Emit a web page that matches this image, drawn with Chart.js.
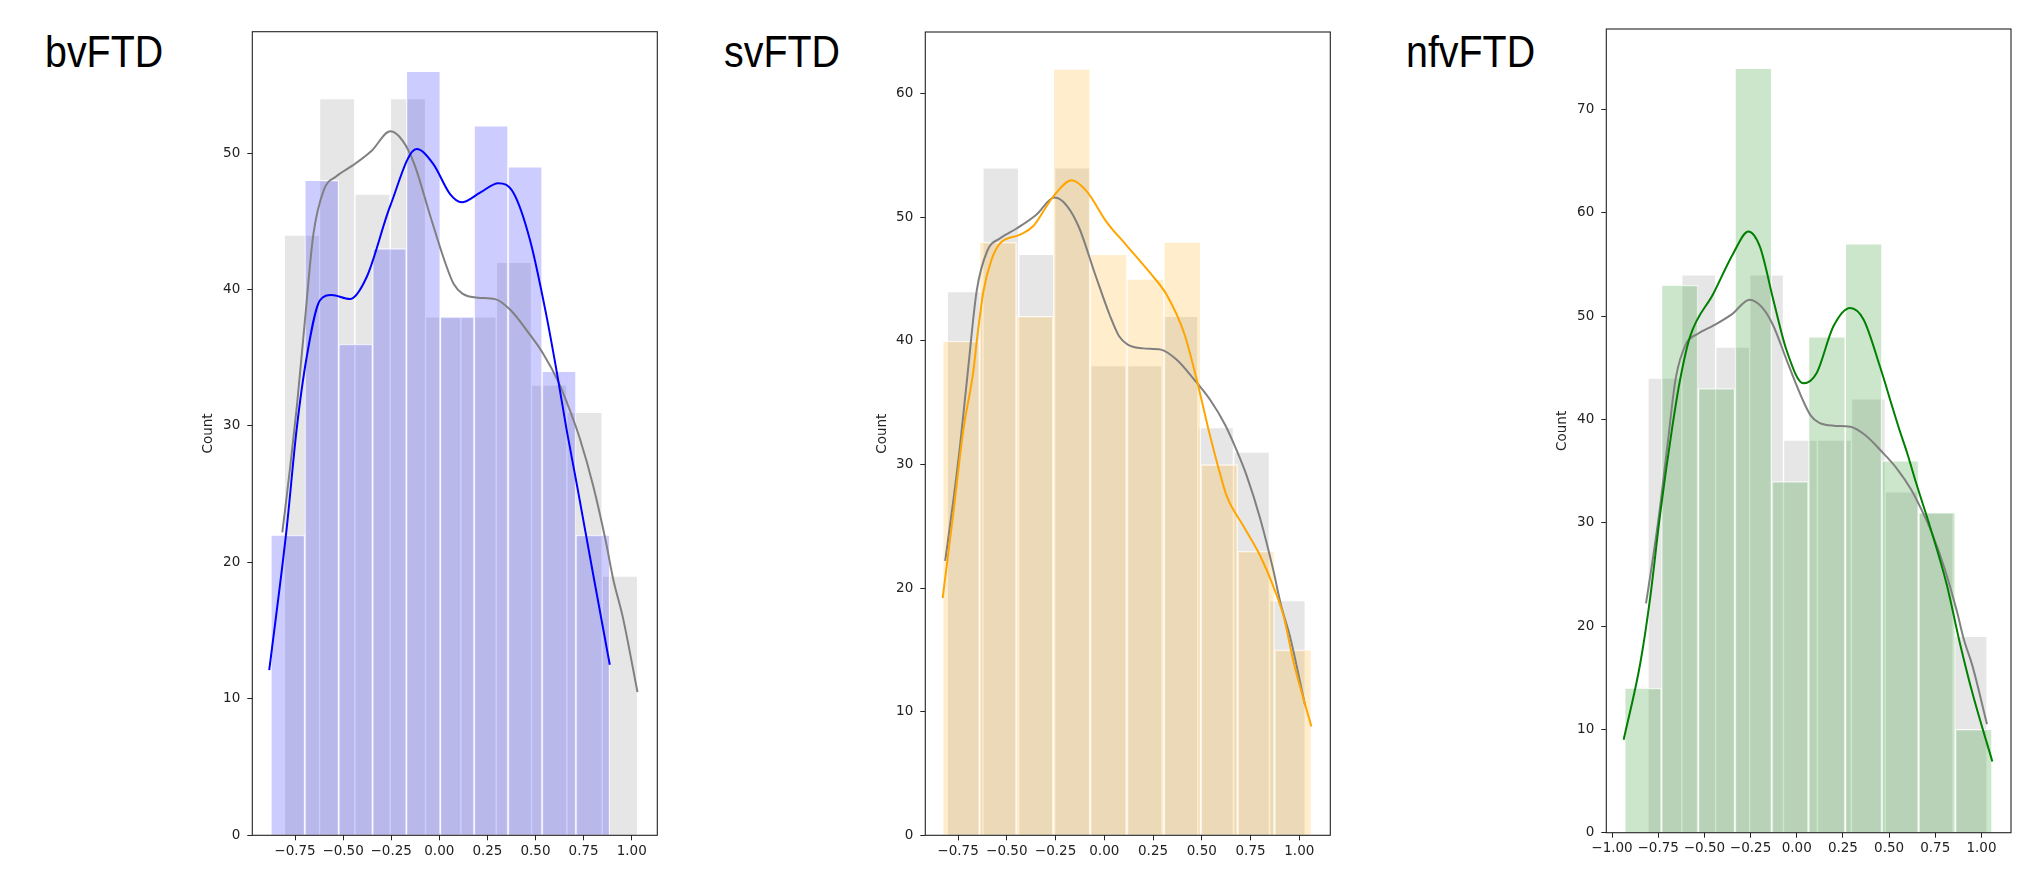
<!DOCTYPE html>
<html>
<head>
<title>FTD subtype histograms</title>
<script src="https://cdn.jsdelivr.net/npm/chart.js"></script>
<style>
  body { margin: 0; background: #fff; width: 2036px; height: 873px; position: relative; overflow: hidden; }
  .title { position: absolute; top: 29px; font-family: "Liberation Sans", Arial, sans-serif; font-size: 45px; line-height: 45px; color: #000; transform: scaleX(0.875); transform-origin: left top; white-space: nowrap; }
  canvas { position: absolute; top: 0; }
</style>
</head>
<body>
<div class="title" style="left:45px">bvFTD</div>
<div class="title" style="left:724px">svFTD</div>
<div class="title" style="left:1406px">nfvFTD</div>
<canvas id="bv" style="left:196px" width="472" height="873"></canvas>
<canvas id="sv" style="left:870px" width="472" height="873"></canvas>
<canvas id="nfv" style="left:1550px" width="476" height="873"></canvas>

<script>
// control group (grey, same in every panel)
const controlCenters = [-0.714, -0.531, -0.347, -0.163, 0.020, 0.204, 0.388, 0.571, 0.755, 0.939];
const controlCounts = [44, 54, 47, 54, 38, 38, 42, 33, 31, 19];
const controlKdeX = [-0.816, -0.775, -0.74, -0.70, -0.655, -0.60, -0.535, -0.45, -0.35, -0.255, -0.19, -0.13, -0.045, 0.03, 0.075, 0.12, 0.2, 0.29, 0.37, 0.46, 0.54, 0.62, 0.68, 0.73, 0.80, 0.866, 0.905, 0.952, 1.03];
const controlKdeY = [22.2, 27.0, 31.5, 37.5, 44.0, 47.3, 48.3, 49.1, 50.2, 51.6, 50.9, 49.2, 45.3, 42.0, 40.4, 39.7, 39.4, 39.3, 38.5, 36.9, 35.3, 33.2, 31.1, 29.1, 25.6, 21.5, 18.7, 16.1, 10.5];

// bvFTD
const bvCenters = [-0.787, -0.611, -0.435, -0.259, -0.083, 0.093, 0.269, 0.446, 0.622, 0.798];
const bvCounts = [22, 48, 36, 43, 56, 38, 52, 49, 34, 22];
const bvKdeX = [-0.884, -0.794, -0.742, -0.69, -0.621, -0.56, -0.465, -0.378, -0.256, -0.118, -0.031, 0.056, 0.116, 0.212, 0.307, 0.385, 0.472, 0.558, 0.61, 0.662, 0.715, 0.80, 0.886];
const bvKdeY = [12.1, 22.4, 29.7, 35.0, 39.2, 39.6, 39.3, 40.9, 46.1, 50.3, 49.2, 47.0, 46.4, 47.1, 47.8, 47.1, 43.6, 38.0, 34.0, 29.7, 25.7, 19.1, 12.5];

// svFTD
const svCenters = [-0.734, -0.545, -0.356, -0.167, 0.022, 0.211, 0.400, 0.589, 0.778, 0.967];
const svCounts = [40, 48, 42, 62, 47, 45, 48, 30, 23, 15];
const svKdeX = [-0.829, -0.774, -0.723, -0.672, -0.654, -0.62, -0.58, -0.535, -0.432, -0.364, -0.30, -0.261, -0.167, -0.09, 0.013, 0.116, 0.235, 0.321, 0.41, 0.478, 0.535, 0.593, 0.629, 0.714, 0.80, 0.868, 0.92, 0.971, 1.062];
const svKdeY = [19.2, 26.1, 32.8, 37.5, 40.0, 44.0, 46.5, 47.9, 48.6, 49.3, 50.8, 51.7, 53.0, 52.1, 49.6, 47.7, 45.5, 43.7, 40.6, 36.6, 32.8, 29.3, 27.4, 25.0, 22.6, 20.1, 17.7, 14.0, 8.8];

// nfvFTD
const nfvCenters = [-0.832, -0.633, -0.434, -0.235, -0.036, 0.163, 0.362, 0.560, 0.759, 0.958];
const nfvCounts = [14, 53, 43, 74, 34, 48, 57, 36, 31, 10];
const nfvKdeX = [-0.937, -0.847, -0.793, -0.739, -0.676, -0.632, -0.578, -0.451, -0.343, -0.262, -0.199, -0.127, -0.055, 0.036, 0.108, 0.198, 0.289, 0.361, 0.451, 0.523, 0.556, 0.597, 0.649, 0.722, 0.811, 0.884, 0.956, 1.059];
const nfvKdeY = [9.0, 16.4, 22.8, 30.9, 39.0, 43.8, 48.0, 52.2, 56.1, 58.2, 56.7, 51.6, 46.7, 43.5, 44.5, 49.0, 50.8, 49.7, 45.1, 40.9, 39.0, 36.8, 33.7, 29.6, 24.1, 18.3, 13.2, 6.9];

Chart.defaults.font.family = 'DejaVu Sans';
Chart.defaults.font.size = 13.5;
Chart.defaults.color = '#222';

function toPoints(xs, ys) {
    return xs.map((x, i) => ({ x: x, y: ys[i] }));
}

function fmt(v) {
    if (Math.abs(v) < 1e-9) v = 0;
    return v.toFixed(2).replace('-', '\u2212');
}

// draws the box round the plot area
const frame = {
    id: 'frame',
    afterDraw(chart) {
        const { ctx, chartArea: a } = chart;
        ctx.save();
        ctx.strokeStyle = '#222';
        ctx.lineWidth = 1.1;
        ctx.strokeRect(a.left, a.top, a.right - a.left, a.bottom - a.top);
        ctx.restore();
    }
};

function hiddenX(min, max) {
    return { type: 'linear', display: false, min: min, max: max, offset: false,
             ticks: { stepSize: 1, includeBounds: false } };
}

function makeChart(id, p) {
    new Chart(document.getElementById(id), {
        type: 'line',
        data: {
            datasets: [
                { type: 'line', data: toPoints(p.kdeX, p.kdeY), borderColor: p.line, borderWidth: 2,
                  pointRadius: 0, cubicInterpolationMode: 'monotone', xAxisID: 'x', order: 0 },
                { type: 'line', data: toPoints(controlKdeX, controlKdeY), borderColor: '#808080', borderWidth: 2,
                  pointRadius: 0, cubicInterpolationMode: 'monotone', xAxisID: 'x', order: 1 },
                { type: 'bar', data: toPoints(p.centers, p.counts), backgroundColor: p.fill,
                  borderColor: 'rgba(255,255,255,0.85)', borderWidth: 1, grouped: false,
                  barPercentage: 1, categoryPercentage: 1, xAxisID: 'xg', order: 2 },
                { type: 'bar', data: toPoints(controlCenters, controlCounts), backgroundColor: 'rgba(128,128,128,0.2)',
                  borderColor: 'rgba(255,255,255,0.85)', borderWidth: 1, grouped: false,
                  barPercentage: 1, categoryPercentage: 1, xAxisID: 'xc', order: 3 }
            ]
        },
        options: {
            responsive: false,
            animation: false,
            layout: { padding: { left: 0, right: p.padRight, top: p.padTop, bottom: 0 } },
            plugins: { legend: { display: false }, tooltip: { enabled: false } },
            scales: {
                x: {
                    type: 'linear', min: p.xMin, max: p.xMax, offset: false,
                    afterFit: s => { s.height = p.xAxisHeight; },
                    ticks: { stepSize: 0.25, includeBounds: false, autoSkip: false, maxRotation: 0,
                             padding: 3, callback: v => fmt(v) },
                    grid: { drawOnChartArea: false, tickLength: 5, color: '#222' },
                    border: { display: false }
                },
                xg: hiddenX(p.xMin, p.xMax),
                xc: hiddenX(p.xMin, p.xMax),
                y: {
                    min: 0, max: p.yMax,
                    afterFit: s => { s.width = p.yAxisWidth; },
                    ticks: { stepSize: 10, includeBounds: false, padding: 7 },
                    grid: { drawOnChartArea: false, tickLength: 5, color: '#222' },
                    border: { display: false },
                    title: { display: true, text: 'Count', padding: { top: 4, bottom: 0 } }
                }
            }
        },
        plugins: [frame]
    });
}

makeChart('bv', {
    centers: bvCenters, counts: bvCounts, kdeX: bvKdeX, kdeY: bvKdeY,
    line: '#0000ff', fill: 'rgba(0,0,255,0.2)',
    xMin: -0.972, xMax: 1.133, yMax: 58.9,
    padTop: 31.7, padRight: 10.7, yAxisWidth: 56.3, xAxisHeight: 37.7
});
makeChart('sv', {
    centers: svCenters, counts: svCounts, kdeX: svKdeX, kdeY: svKdeY,
    line: '#ffa500', fill: 'rgba(255,165,0,0.2)',
    xMin: -0.918, xMax: 1.159, yMax: 65.0,
    padTop: 32, padRight: 11.7, yAxisWidth: 55.3, xAxisHeight: 37.7
});
makeChart('nfv', {
    centers: nfvCenters, counts: nfvCounts, kdeX: nfvKdeX, kdeY: nfvKdeY,
    line: '#008000', fill: 'rgba(0,128,0,0.2)',
    xMin: -1.031, xMax: 1.160, yMax: 77.8,
    padTop: 29, padRight: 15, yAxisWidth: 56.3, xAxisHeight: 40.3
});
</script>
</body>
</html>
